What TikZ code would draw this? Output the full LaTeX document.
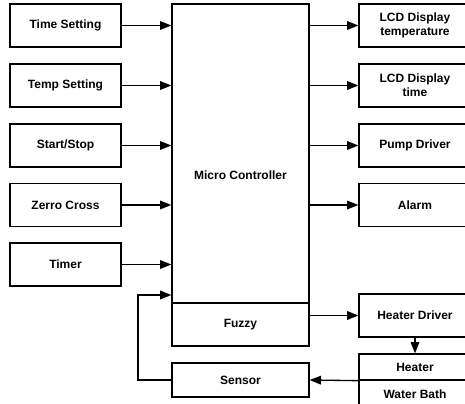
\documentclass[tikz,border=0pt]{standalone}
\usepackage{fontspec}
\setmainfont{Liberation Sans}
\usetikzlibrary{arrows.meta}

\tikzset{
  blk/.style={draw, line width=1pt, fill=white, inner sep=0pt, align=center,
    font=\fontsize{9}{10.5}\selectfont\bfseries},
  inbox/.style={blk, minimum width=83.25pt, minimum height=32.25pt},
  outbox/.style={blk, minimum width=84pt, minimum height=32.25pt},
  sig/.style={line width=1pt, -{Triangle[length=8.5pt,width=6.5pt]}}
}

\begin{document}
\begin{tikzpicture}[x=0.75pt,y=-0.75pt]
\useasboundingbox (0,0) rectangle (465,404);

% inputs
\node[inbox] (time)  at (65.5,25.5)  {Time Setting};
\node[inbox] (temp)  at (65.5,85.5)  {Temp Setting};
\node[inbox] (start) at (65.5,145.5) {Start/Stop};
\node[inbox] (zero)  at (65.5,205)   {Zerro Cross};
\node[inbox] (timer) at (65.5,264.5) {Timer};

% controller
\node[blk, minimum width=102.75pt, minimum height=256.5pt] (mc) at (240.5,175) {Micro Controller};
\node[blk, minimum width=102.75pt, minimum height=32.25pt] (fuzzy) at (240.5,324.5) {Fuzzy};
\node[blk, minimum width=102.75pt, minimum height=25.5pt] (sensor) at (240.5,380) {Sensor};

% outputs
\node[outbox] (lcdtemp) at (415,25.5)  {LCD Display\\temperature};
\node[outbox] (lcdtime) at (415,85.5)  {LCD Display\\time};
\node[outbox] (pump)    at (415,145.5) {Pump Driver};
\node[outbox] (alarm)   at (415,205)   {Alarm};
\node[outbox] (hdrv)    at (415,315.5) {Heater Driver};
\node[blk, minimum width=84pt, minimum height=19.5pt] (heater) at (415,367) {Heater};
\node[blk, minimum width=84pt, minimum height=21pt] (bath) at (415,394) {Water Bath};

% arrows in
\foreach \n in {time,temp,start,zero,timer}
  \draw[sig] (\n.east) -- (\n.east -| mc.west);

% arrows out
\foreach \n in {lcdtemp,lcdtime,pump,alarm,hdrv}
  \draw[sig] (\n.west -| mc.east) -- (\n.west);

% heater loop
\draw[sig] (hdrv.south) -- (heater.north);
\draw[sig] (heater.south west) -- (sensor.east);
\coordinate (fb) at (138,295);
\draw[sig] (sensor.west) -| (fb) -- (fb -| mc.west);

\end{tikzpicture}
\end{document}
